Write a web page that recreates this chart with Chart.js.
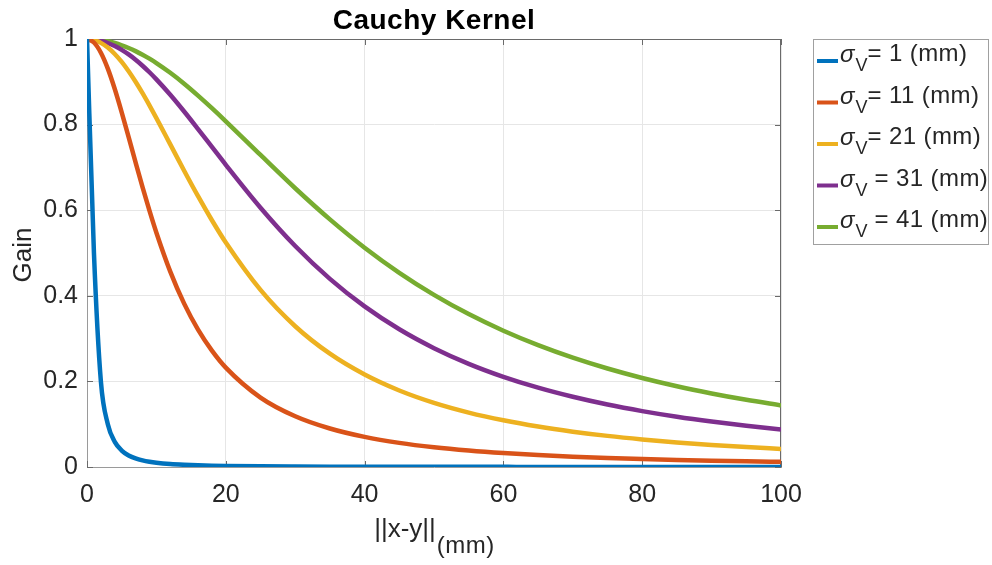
<!DOCTYPE html>
<html>
<head>
<meta charset="utf-8">
<script src="https://cdn.jsdelivr.net/npm/chart.js@4.4.1/dist/chart.umd.min.js"></script>
<style>
  html, body { margin: 0; padding: 0; background: #fff; }
  #wrap { width: 992px; height: 565px; }
</style>
</head>
<body>
<div id="wrap"><canvas id="kernel" width="992" height="565"></canvas></div>
<script>
// distance ||x-y|| in mm
var dist = [0, 1, 2, 3, 4, 5, 6, 7, 8, 9, 10, 12, 14, 16, 18, 20, 25, 30, 35, 40,
            45, 50, 55, 60, 65, 70, 75, 80, 85, 90, 95, 100];

// gain for each sigma_V
var gain1  = [1, 0.5, 0.2, 0.1, 0.0588, 0.0385, 0.027, 0.02, 0.0154, 0.0122, 0.0099, 0.0069,
              0.0051, 0.0039, 0.0031, 0.0025, 0.0016, 0.0011, 0.0008, 0.0006, 0.0005, 0.0004,
              0.0003, 0.0003, 0.0002, 0.0002, 0.0002, 0.0002, 0.0001, 0.0001, 0.0001, 0.0001];
var gain11 = [1, 0.9918, 0.968, 0.9308, 0.8832, 0.8288, 0.7707, 0.7118, 0.6541, 0.599, 0.5475,
              0.4566, 0.3817, 0.321, 0.2719, 0.2322, 0.1622, 0.1185, 0.0899, 0.0703, 0.0564,
              0.0462, 0.0385, 0.0325, 0.0278, 0.0241, 0.0211, 0.0186, 0.0165, 0.0147, 0.0132, 0.012];
var gain21 = [1, 0.9977, 0.991, 0.98, 0.965, 0.9464, 0.9245, 0.9, 0.8733, 0.8448, 0.8152,
              0.7538, 0.6923, 0.6327, 0.5765, 0.5244, 0.4137, 0.3289, 0.2647, 0.2161, 0.1788,
              0.1499, 0.1272, 0.1091, 0.0945, 0.0826, 0.0727, 0.0645, 0.0575, 0.0516, 0.0466, 0.0422];
var gain31 = [1, 0.999, 0.9959, 0.9907, 0.9836, 0.9746, 0.9639, 0.9515, 0.9376, 0.9223, 0.9057,
              0.8697, 0.8306, 0.7896, 0.7479, 0.7061, 0.6059, 0.5164, 0.4396, 0.3752, 0.3218,
              0.2777, 0.2411, 0.2107, 0.1853, 0.164, 0.1459, 0.1306, 0.1174, 0.1061, 0.0962, 0.0877];
var gain41 = [1, 0.9994, 0.9976, 0.9947, 0.9906, 0.9853, 0.979, 0.9717, 0.9633, 0.954, 0.9439,
              0.9211, 0.8956, 0.8678, 0.8384, 0.8078, 0.729, 0.6513, 0.5785, 0.5123, 0.4536,
              0.4021, 0.3572, 0.3183, 0.2846, 0.2554, 0.2301, 0.208, 0.1887, 0.1719, 0.157, 0.1439];

var seriesNames = ["= 1 (mm)", "= 11 (mm)", "= 21 (mm)", " = 31 (mm)", " = 41 (mm)"];
var seriesColors = ["#0072BD", "#D95319", "#EDB120", "#7E2F8E", "#77AC30"];
var xTicks = [0, 20, 40, 60, 80, 100];
var yTicks = [0, 0.2, 0.4, 0.6, 0.8, 1];

var FONT = '"Liberation Sans", Arial, Helvetica, sans-serif';
var INK = "#262626";

function pts(ys) {
    return dist.map(function (d, i) { return { x: d, y: ys[i] }; });
}

var allGains = [gain1, gain11, gain21, gain31, gain41];
var datasets = allGains.map(function (g, i) {
    return {
        label: seriesNames[i],
        data: pts(g),
        borderColor: seriesColors[i],
        backgroundColor: seriesColors[i],
        borderWidth: 4.5,
        pointRadius: 0,
        cubicInterpolationMode: 'monotone',
        fill: false
    };
});

// box, inward ticks, titles and the legend with subscripts
var decor = {
    id: 'decor',
    beforeDatasetsDraw: function (chart) {
        var ctx = chart.ctx, a = chart.chartArea;
        var xs = chart.scales.x, ys = chart.scales.y;
        ctx.save();
        ctx.strokeStyle = "#9a9a9a";
        ctx.lineWidth = 1;
        ctx.beginPath();
        ctx.moveTo(a.left, Math.round(a.top) + 0.5);
        ctx.lineTo(a.right, Math.round(a.top) + 0.5);
        ctx.moveTo(Math.round(a.right) - 0.5, a.top);
        ctx.lineTo(Math.round(a.right) - 0.5, a.bottom);
        // inward tick marks on all four sides
        ctx.strokeStyle = "#6a6a6a";
        xTicks.forEach(function (t) {
            var px = Math.round(xs.getPixelForValue(t)) + 0.5;
            ctx.moveTo(px, a.bottom); ctx.lineTo(px, a.bottom - 6);
            ctx.moveTo(px, a.top); ctx.lineTo(px, a.top + 6);
        });
        yTicks.forEach(function (t) {
            var py = Math.round(ys.getPixelForValue(t)) + 0.5;
            ctx.moveTo(a.left, py); ctx.lineTo(a.left + 6, py);
            ctx.moveTo(a.right, py); ctx.lineTo(a.right - 6, py);
        });
        ctx.stroke();
        ctx.restore();
    },
    afterDraw: function (chart) {
        var ctx = chart.ctx, a = chart.chartArea;
        ctx.save();
        ctx.fillStyle = "#000";
        ctx.textAlign = "center";
        ctx.textBaseline = "alphabetic";
        ctx.font = "bold 28px " + FONT;
        ctx.letterSpacing = "0.5px";
        ctx.fillText("Cauchy Kernel", (a.left + a.right) / 2, 29);
        ctx.letterSpacing = "0px";

        ctx.fillStyle = INK;
        // y axis title
        ctx.save();
        ctx.translate(31, 255);
        ctx.rotate(-Math.PI / 2);
        ctx.font = "26px " + FONT;
        ctx.fillText("Gain", 0, 0);
        ctx.restore();

        // x axis title with subscript
        ctx.textAlign = "left";
        var main = "||x-y||";
        ctx.font = "26px " + FONT;
        var mainW = ctx.measureText(main).width;
        ctx.font = "24px " + FONT;
        ctx.letterSpacing = "0.5px";
        var subW = ctx.measureText("(mm)").width;
        var x0 = (a.left + a.right) / 2 - (mainW + subW) / 2;
        ctx.fillText("(mm)", x0 + mainW + 1, 553);
        ctx.letterSpacing = "0px";
        ctx.font = "26px " + FONT;
        ctx.fillText(main, x0, 537);

        // legend
        var lx = 813.5, ly = 39.5, lw = 175, lh = 205;
        ctx.fillStyle = "#fff";
        ctx.fillRect(lx, ly, lw, lh);
        ctx.strokeStyle = "#a0a0a0";
        ctx.lineWidth = 1;
        ctx.strokeRect(lx, ly, lw, lh);
        seriesNames.forEach(function (name, i) {
            var base = 61 + i * 41.5;
            ctx.strokeStyle = seriesColors[i];
            ctx.lineWidth = 4;
            ctx.beginPath();
            ctx.moveTo(817, base);
            ctx.lineTo(838, base);
            ctx.stroke();
            ctx.fillStyle = INK;
            ctx.font = "italic 24px " + FONT;
            ctx.fillText("\u03c3", 840, base + 1);
            var px = 840 + ctx.measureText("\u03c3").width + 1;
            ctx.font = "18px " + FONT;
            ctx.fillText("V", px, base + 10);
            px += ctx.measureText("V").width;
            ctx.font = "24px " + FONT;
            ctx.letterSpacing = "0.4px";
            ctx.fillText(name, px, base);
            ctx.letterSpacing = "0px";
        });
        ctx.restore();
    }
};

var chart = new Chart(document.getElementById("kernel").getContext("2d"), {
    type: 'line',
    data: { datasets: datasets },
    options: {
        responsive: false,
        animation: false,
        layout: { padding: { left: 0, right: 211, top: 39, bottom: 0 } },
        plugins: {
            legend: { display: false },
            title: { display: false },
            tooltip: { enabled: false }
        },
        scales: {
            x: {
                type: 'linear',
                min: 0,
                max: 100,
                afterFit: function (s) { s.height = 98; },
                afterBuildTicks: function (s) {
                    s.ticks = xTicks.map(function (v) { return { value: v }; });
                },
                grid: { color: "#e6e6e6", drawTicks: false },
                border: { color: "#9a9a9a", width: 1 },
                ticks: {
                    color: INK,
                    padding: 13,
                    maxRotation: 0,
                    font: { family: FONT, size: 25 }
                }
            },
            y: {
                type: 'linear',
                min: 0,
                max: 1,
                afterFit: function (s) { s.width = 87; },
                afterBuildTicks: function (s) {
                    s.ticks = yTicks.map(function (v) { return { value: v }; });
                },
                grid: { color: "#e6e6e6", drawTicks: false },
                border: { color: "#9a9a9a", width: 1 },
                ticks: {
                    color: INK,
                    padding: 9,
                    font: { family: FONT, size: 25 },
                    callback: function (v) { return String(v); }
                }
            }
        }
    },
    plugins: [decor]
});
</script>
</body>
</html>
